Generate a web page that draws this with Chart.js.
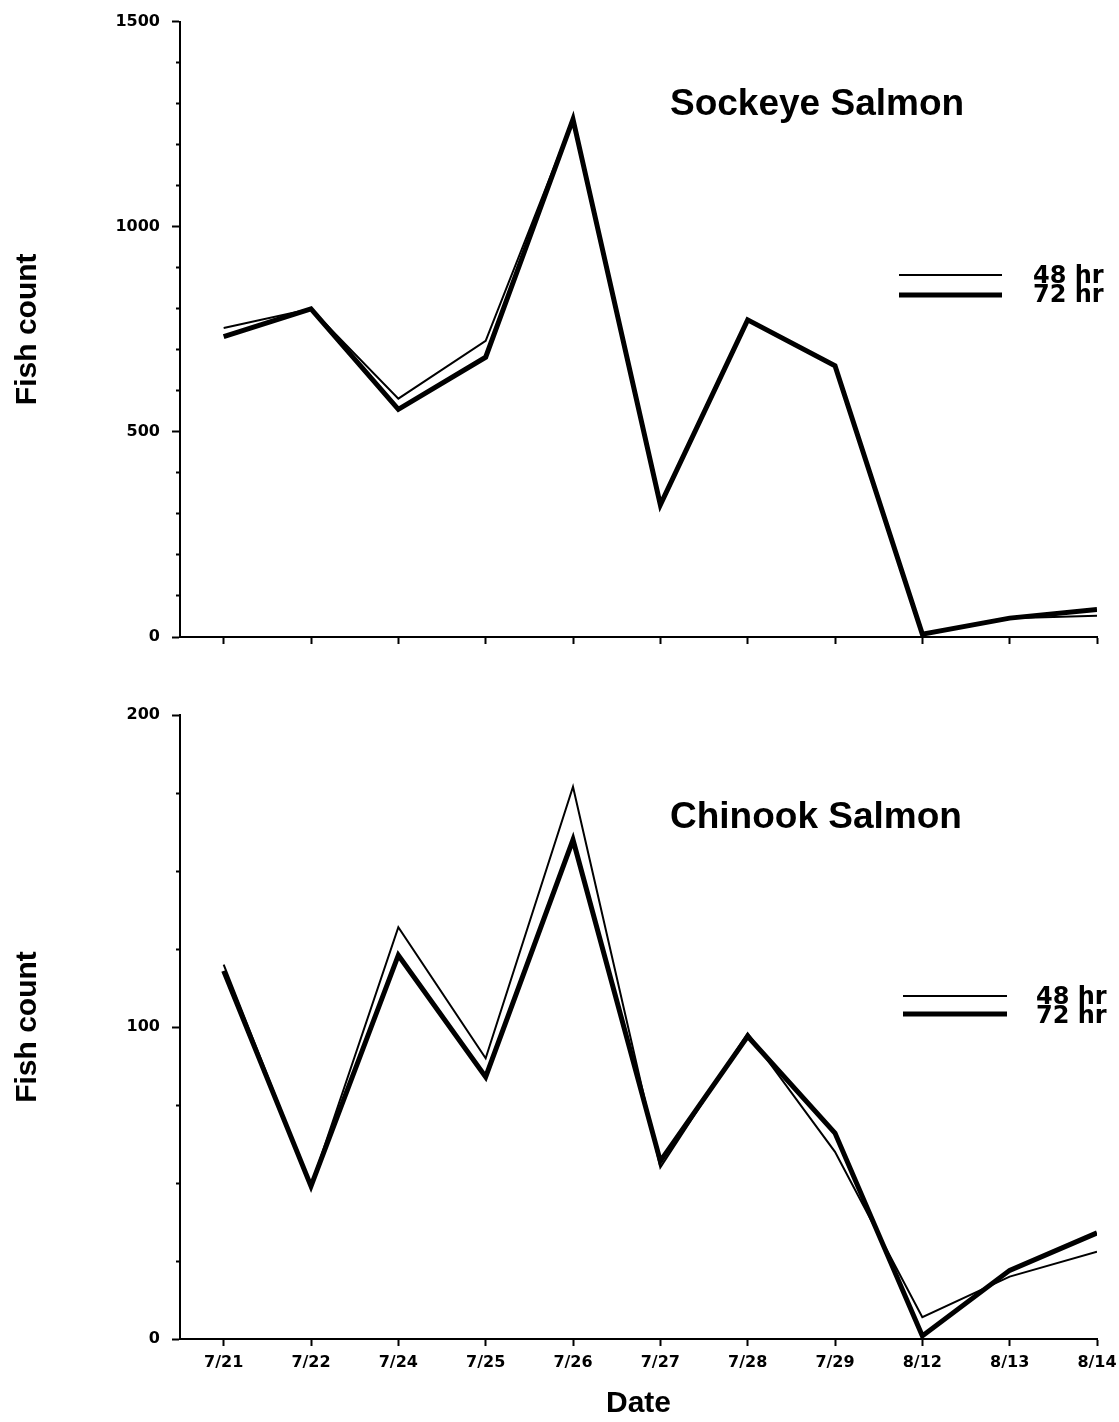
<!DOCTYPE html>
<html><head><meta charset="utf-8">
<script src="https://cdn.jsdelivr.net/npm/chart.js@4.4.1/dist/chart.umd.min.js"></script>
<style>
html,body{margin:0;padding:0;background:#fff;overflow:hidden;}
#top{position:absolute;left:0;top:0;width:1119px;height:680px;}
#bot{position:absolute;left:0;top:690px;width:1119px;height:732px;}
</style></head><body>
<div id="top"><canvas id="c1"></canvas></div>
<div id="bot"><canvas id="c2"></canvas></div>
<script>
const categories = ['7/21','7/22','7/24','7/25','7/26','7/27','7/28','7/29','8/12','8/13','8/14'];
const sockeye48 = [753, 800, 581, 722, 1262, 322, 773, 661, 7, 46, 52];
const sockeye72 = [732, 800, 555, 682, 1262, 322, 773, 661, 7, 46, 67];
const chinook48 = [120, 49, 132, 90, 177, 55, 98, 60, 7, 20, 28];
const chinook72 = [118, 49, 123, 84, 160, 57, 97, 66, 1, 22, 34];
const seriesLabels = ['48 hr', '72 hr'];
const sockeyeMajorTicks = [0, 500, 1000, 1500];
const chinookMajorTicks = [0, 100, 200];

const decor = {
  id: 'panelDecor',
  afterDraw(chart, args, o) {
    const ctx = chart.ctx;
    ctx.save();
    ctx.fillStyle = '#000';
    ctx.strokeStyle = '#000';
    ctx.textBaseline = 'middle';
    ctx.textAlign = 'left';
    ctx.font = 'bold 37px "Liberation Sans", Arial, sans-serif';
    ctx.fillText(o.title, o.titleX, o.titleY);
    ctx.font = 'bold 24px "DejaVu Sans", sans-serif';
    chart.data.datasets.forEach((ds, i) => {
      const ly = o.lineY[i];
      ctx.lineWidth = ds.borderWidth;
      ctx.beginPath();
      ctx.moveTo(o.lineX0, ly);
      ctx.lineTo(o.lineX1, ly);
      ctx.stroke();
      ctx.fillText(ds.label, o.textX, o.textY[i]);
    });
    ctx.restore();
  }
};

function makeChart(canvasId, s48, s72, yMax, yStep, yMajor, showX, padTop, xHeight, decorOpts) {
  const toPts = arr => arr.map((v, i) => ({x: i, y: v}));
  return new Chart(document.getElementById(canvasId), {
    type: 'line',
    data: {
      datasets: [
        {label: seriesLabels[0], data: toPts(s48), borderColor: '#000', borderWidth: 2, pointRadius: 0, tension: 0, fill: false},
        {label: seriesLabels[1], data: toPts(s72), borderColor: '#000', borderWidth: 5, pointRadius: 0, tension: 0, fill: false}
      ]
    },
    options: {
      responsive: true,
      maintainAspectRatio: false,
      animation: false,
      layout: {padding: {left: 0, right: 22, top: padTop, bottom: 0}},
      plugins: {legend: {display: false}, tooltip: {enabled: false}, panelDecor: decorOpts},
      scales: {
        x: {
          type: 'linear', min: -0.5, max: 10,
          afterBuildTicks: s => { s.ticks = categories.map((c, i) => ({value: i})); },
          afterFit: s => { s.height = xHeight; s.paddingLeft = 0; s.paddingRight = 0; },
          ticks: {display: showX, autoSkip: false, maxRotation: 0, callback: v => categories[v],
                  font: {family: '"DejaVu Sans"', weight: 'bold', size: 16}, color: '#000', padding: 7},
          grid: {display: true, drawOnChartArea: false, drawTicks: true, tickLength: 7, tickWidth: 2, tickColor: '#000'},
          border: {display: true, color: '#000', width: 2},
          title: {display: showX, text: 'Date', color: '#000', padding: {top: 0, bottom: 0},
                  font: {family: '"Liberation Sans"', weight: 'bold', size: 30}}
        },
        y: {
          min: 0, max: yMax,
          afterFit: s => { s.width = 180; },
          ticks: {stepSize: yStep, autoSkip: false, callback: v => yMajor.includes(v) ? String(v) : '',
                  font: {family: '"DejaVu Sans"', weight: 'bold', size: 16}, color: '#000', padding: 12},
          grid: {display: true, drawOnChartArea: false, tickLength: 8, tickWidth: 2, tickColor: '#000',
                 tickBorderDash: c => (c.tick && yMajor.includes(c.tick.value)) ? [] : [0, 4, 4, 30]},
          border: {display: true, color: '#000', width: 2},
          title: {display: true, text: 'Fish count', color: '#000', padding: {top: 10, bottom: 0},
                  font: {family: '"Liberation Sans"', weight: 'bold', size: 30}}
        }
      }
    },
    plugins: [decor]
  });
}

makeChart('c1', sockeye48, sockeye72, 1500, 100, sockeyeMajorTicks, false, 18, 43,
  {title: 'Sockeye Salmon', titleX: 670, titleY: 105, lineX0: 899, lineX1: 1002, lineY: [275, 295], textX: 1033, textY: [277, 296]});
makeChart('c2', chinook48, chinook72, 200, 25, chinookMajorTicks, true, 25, 83,
  {title: 'Chinook Salmon', titleX: 670, titleY: 128, lineX0: 903, lineX1: 1007, lineY: [306, 324], textX: 1036, textY: [308, 327]});
</script>
</body></html>
